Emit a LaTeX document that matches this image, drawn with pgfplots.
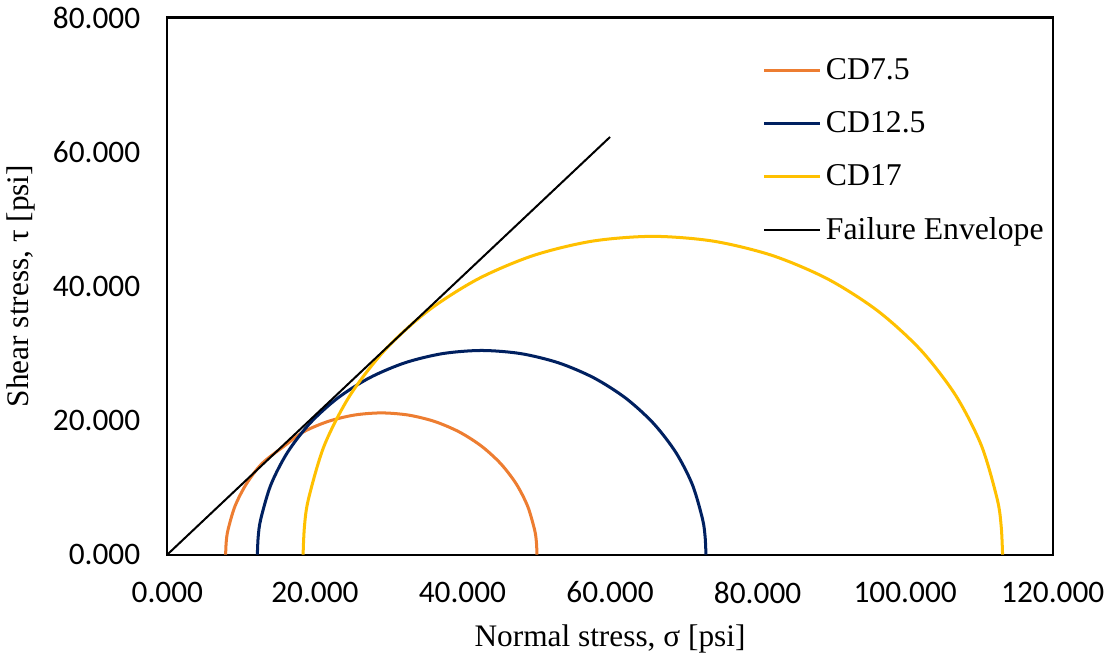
\documentclass[border=0pt]{standalone}
\usepackage{fontspec}
\setmainfont{Liberation Serif}
\newfontfamily\carlito{Carlito}
\usepackage{pgfplots}
\pgfplotsset{compat=1.18}
\definecolor{cdorange}{HTML}{ED7D31}
\definecolor{cdblue}{HTML}{002060}
\definecolor{cdyellow}{HTML}{FFC000}
\begin{document}
\begin{tikzpicture}
\begin{axis}[
  scale only axis,
  width=441pt, height=267.5pt,
  xmin=0, xmax=120, ymin=0, ymax=80,
  xtick={0,20,40,60,80,100,120},
  ytick={0,20,40,60,80},
  major tick length=0pt,
  axis line style={line width=1pt},
  /pgf/number format/assume math mode=true,
  /pgf/number format/.cd, fixed, fixed zerofill, precision=3, 1000 sep={},
  /pgfplots/.cd,
  ticklabel style={font=\carlito\fontsize{15.6}{18}\selectfont},
  xticklabel style={yshift=-10pt},
  yticklabel style={xshift=-10pt},
  xlabel={Normal stress, σ [psi]},
  ylabel={Shear stress, τ [psi]},
  label style={font=\fontsize{15.6}{18}\selectfont},
  xlabel style={yshift=-4pt},
  ylabel style={yshift=2pt},
  legend style={draw=none, fill=none, at={(0.672,0.932)}, anchor=north west,
    font=\fontsize{15.8}{18}\selectfont, row sep=10.5pt, inner sep=0pt},
  legend cell align=left,
  legend image code/.code={\draw[#1] (0pt,0pt) -- (28pt,0pt);},
]
\addplot[cdorange, line width=1.5pt, smooth] coordinates {
(50.1,0) (50.02,1.839) (49.779,3.664) (48.828,7.216) (47.273,10.55) (45.163,13.563)
(42.563,16.163) (39.55,18.273) (36.216,19.828) (32.664,20.779) (29.0,21.1)
(25.336,20.779) (21.784,19.828) (18.45,18.273) (15.837,16.163) (12.837,13.563)
(10.727,10.55) (9.172,7.216) (8.221,3.664) (7.98,1.839) (7.9,0)};
\addlegendentry{CD7.5}
\addplot[cdblue, line width=1.5pt, smooth] coordinates {
(73.0,0) (72.884,2.651) (72.538,5.277) (71.167,10.397) (68.926,15.2) (65.886,19.541)
(62.141,23.286) (57.8,26.326) (52.997,28.567) (47.877,29.938) (42.6,30.4)
(37.323,29.938) (32.203,28.567) (27.4,26.326) (23.059,23.286) (19.314,19.541)
(16.274,15.2) (14.033,10.397) (12.662,5.277) (12.316,2.651) (12.2,0)};
\addlegendentry{CD12.5}
\addplot[cdyellow, line width=1.5pt, smooth] coordinates {
(113.2,0) (113.02,4.133) (112.48,8.231) (110.342,16.211) (106.85,23.7) (102.108,30.469)
(96.269,36.308) (89.5,41.05) (82.011,44.542) (74.031,46.68) (65.8,47.4)
(57.569,46.68) (49.589,44.542) (42.1,41.05) (35.331,36.308) (29.492,30.469)
(24.75,23.7) (21.258,16.211) (19.12,8.231) (18.58,4.133) (18.4,0)};
\addlegendentry{CD17}
\addplot[black, line width=1pt] coordinates {(0,0) (60.0,62.2)};
\addlegendentry{Failure Envelope}
\end{axis}
\end{tikzpicture}
\end{document}
